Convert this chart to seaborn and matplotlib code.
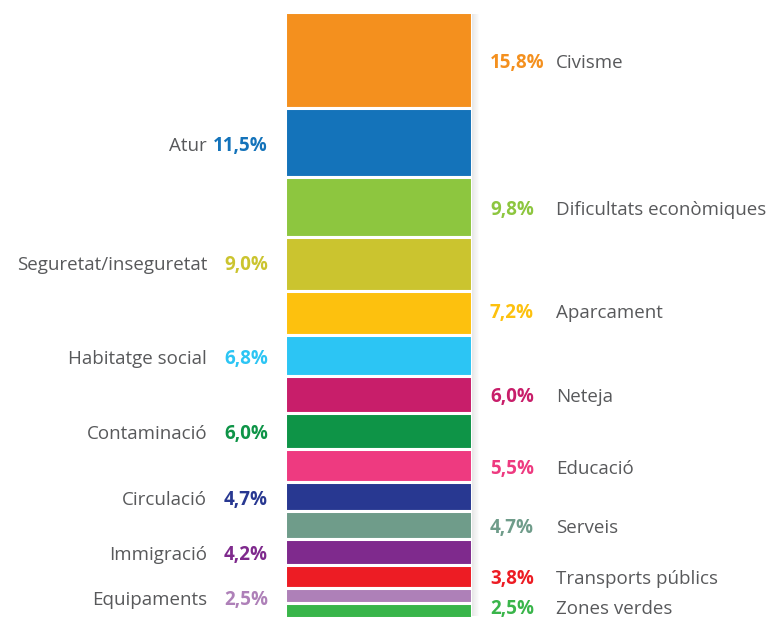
import seaborn as sns
import matplotlib.pyplot as plt
import matplotlib.patches as mpatches

sns.set_theme(style="white")
plt.rcParams['font.family'] = ['Open Sans', 'DejaVu Sans']

# top to bottom
categories = ["Civisme", "Atur", "Dificultats econòmiques", "Seguretat/inseguretat",
              "Aparcament", "Habitatge social", "Neteja", "Contaminació", "Educació",
              "Circulació", "Serveis", "Immigració", "Transports públics",
              "Equipaments", "Zones verdes"]
values = [15.8, 11.5, 9.8, 9.0, 7.2, 6.8, 6.0, 6.0, 5.5, 4.7, 4.7, 4.2, 3.8, 2.5, 2.5]
labels = ["15,8%", "11,5%", "9,8%", "9,0%", "7,2%", "6,8%", "6,0%", "6,0%", "5,5%",
          "4,7%", "4,7%", "4,2%", "3,8%", "2,5%", "2,5%"]
sides = ["right", "left", "right", "left", "right", "left", "right", "left", "right",
         "left", "right", "left", "right", "left", "right"]
colors = ["#F4901E", "#1473BA", "#8DC63F", "#CBC42F", "#FDC10E", "#2CC5F4", "#C81E6A",
          "#0E9447", "#EE3A80", "#283891", "#6F9C8A", "#7F2A8D", "#ED1C24", "#AE80B8",
          "#39B54A"]

W, H = 769, 619
fig = plt.figure(figsize=(W / 100, H / 100), dpi=100)
x0, x1, y0, y1 = 285, 472, 12, 618
ax = fig.add_axes([x0 / W, 1 - y1 / H, (x1 - x0) / W, (y1 - y0) / H])

# soft shadow on the right
for i in range(7):
    fig.patches.append(mpatches.Rectangle(((x1 + i) / W, 1 - (y1 - 2) / H), 1 / W,
                                          (y1 - y0 - 4) / H, transform=fig.transFigure,
                                          color="#000000", alpha=0.09 * (7 - i) / 7,
                                          lw=0, zorder=0))

bottom = 0
centers = []
for v, c in zip(values, colors):
    ax.bar(0, v, bottom=bottom, width=1, color=c, edgecolor="white", linewidth=2.2)
    centers.append(bottom + v / 2)
    bottom += v

ax.set_xlim(-0.5, 0.5)
ax.set_ylim(100, 0)
ax.axis("off")

grey = "#58595B"
fs = 13.5
nudge = {3: -0.4, 4: -0.6, 13: 0.2, 14: -0.8}
for i, (cat, lab, side, c, yc) in enumerate(zip(categories, labels, sides, colors, centers)):
    y = yc + 0.5 + nudge.get(i, 0)
    if side == "left":
        ax.text((268 - x0) / (x1 - x0) - 0.5, y, lab, ha="right", va="center",
                color=c, fontsize=fs, fontweight="bold", clip_on=False)
        ax.text((207 - x0) / (x1 - x0) - 0.5, y, cat, ha="right", va="center",
                color=grey, fontsize=fs, clip_on=False)
    else:
        ax.text((490 - x0) / (x1 - x0) - 0.5, y, lab, ha="left", va="center",
                color=c, fontsize=fs, fontweight="bold", clip_on=False)
        ax.text((556 - x0) / (x1 - x0) - 0.5, y, cat, ha="left", va="center",
                color=grey, fontsize=fs, clip_on=False)

fig.savefig("out.png", dpi=100)
